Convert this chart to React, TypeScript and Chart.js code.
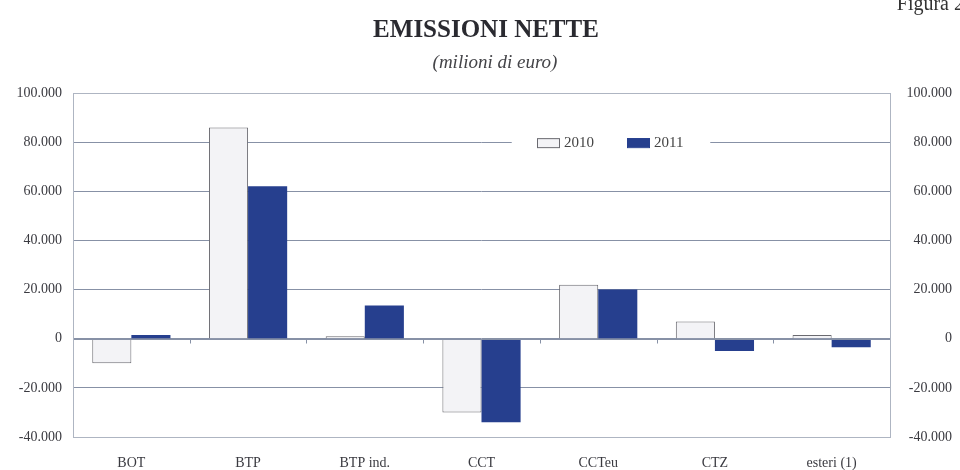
import React, { useEffect, useRef } from "react";
import { Chart, registerables } from "chart.js";

Chart.register(...registerables);

const categories = ["BOT", "BTP", "BTP ind.", "CCT", "CCTeu", "CTZ", "esteri (1)"];
const series2010 = [-10000, 86000, 1000, -30000, 22000, 7000, 1500];
const series2011 = [1500, 62000, 13500, -34000, 20000, -5000, -3500];
const seriesLabels = ["2010", "2011"];
const yTicks = { min: -40000, max: 100000, step: 20000 };
const titleText = "EMISSIONI NETTE";
const subtitleText = "(milioni di euro)";
const figureText = "Figura 2";

const FONT = "'Liberation Serif', 'DejaVu Serif', serif";
const GRID = "#8791a6";
const FRAME = "#aeb5c2";
const C2010 = "#f3f3f6";
const C2010_BORDER = "#6a6a70";
const C2011 = "#263f8e";

const fmt = (v: number) => {
  const s = Math.abs(v).toString().replace(/\B(?=(\d{3})+(?!\d))/g, ".");
  return (v < 0 ? "-" : "") + s;
};

const decorPlugin = {
  id: "decor",
  beforeDraw(chart: any) {
    const ctx = chart.ctx;
    ctx.save();
    ctx.fillStyle = "#ffffff";
    ctx.fillRect(0, 0, chart.width, chart.height);
    ctx.fillStyle = "#2a2a30";
    ctx.textAlign = "center";
    ctx.textBaseline = "alphabetic";
    ctx.font = `bold 25px ${FONT}`;
    ctx.fillText(titleText, 486, 37);
    ctx.fillStyle = "#444448";
    ctx.font = `italic 19px ${FONT}`;
    ctx.fillText(subtitleText, 495, 68);
    ctx.textAlign = "right";
    ctx.font = `20px ${FONT}`;
    ctx.fillStyle = "#333";
    ctx.fillText(figureText, 964, 10);
    ctx.restore();
  },
  afterDatasetsDraw(chart: any) {
    const ctx = chart.ctx;
    const area = chart.chartArea;
    const x = chart.scales.x;
    const y = chart.scales.y;
    ctx.save();
    const y0 = Math.round(y.getPixelForValue(0)) + 0.5;
    ctx.strokeStyle = GRID;
    ctx.lineWidth = 1;
    ctx.beginPath();
    ctx.moveTo(area.left, y0);
    ctx.lineTo(area.right, y0);
    for (let i = 1; i < categories.length; i++) {
      const px = Math.round(x.getPixelForValue(i - 0.5)) + 0.5;
      ctx.moveTo(px, y0);
      ctx.lineTo(px, y0 + 4);
    }
    ctx.stroke();
    ctx.strokeStyle = FRAME;
    ctx.strokeRect(Math.round(area.left) + 0.5, Math.round(area.top) + 0.5, Math.round(area.width), Math.round(area.height));
    const ly = y.getPixelForValue(80000);
    const lx0 = area.left + area.width * 0.537;
    const lx1 = area.left + area.width * 0.78;
    ctx.fillStyle = "#ffffff";
    ctx.fillRect(lx0, ly - 8, lx1 - lx0, 16);
    const items = [
      { label: seriesLabels[0], fill: C2010, stroke: C2010_BORDER, x: 537 },
      { label: seriesLabels[1], fill: C2011, stroke: C2011, x: 627 },
    ];
    ctx.font = `15px ${FONT}`;
    ctx.textAlign = "left";
    ctx.textBaseline = "middle";
    for (const it of items) {
      ctx.fillStyle = it.fill;
      ctx.fillRect(it.x, ly - 4, 23, 9);
      ctx.strokeStyle = it.stroke;
      ctx.strokeRect(it.x + 0.5, ly - 4 + 0.5, 22, 9);
      ctx.fillStyle = "#444";
      ctx.fillText(it.label, it.x + 27, ly + 1);
    }
    ctx.restore();
  },
};

export default function App() {
  const ref = useRef<HTMLCanvasElement | null>(null);
  useEffect(() => {
    if (!ref.current) return;
    const tickFont = { family: FONT, size: 14 };
    const chart = new Chart(ref.current, {
      type: "bar",
      data: {
        labels: categories,
        datasets: [
          {
            label: seriesLabels[0],
            data: series2010,
            backgroundColor: C2010,
            borderColor: C2010_BORDER,
            borderWidth: 1,
            yAxisID: "y",
          },
          {
            label: seriesLabels[1],
            data: series2011,
            backgroundColor: C2011,
            borderColor: C2011,
            borderWidth: 0,
            yAxisID: "y",
          },
        ],
      },
      options: {
        responsive: false,
        animation: false,
        devicePixelRatio: 1,
        layout: { padding: { top: 93, left: 0, right: 8, bottom: 0 } },
        datasets: { bar: { categoryPercentage: 0.67, barPercentage: 1.0 } },
        plugins: {
          legend: { display: false },
          title: { display: false },
          tooltip: { enabled: false },
        },
        scales: {
          x: {
            grid: { display: false, drawTicks: false },
            border: { display: false },
            ticks: { font: tickFont, color: "#3a3a40", padding: 18 },
            afterFit: (s: any) => {
              s.height = 33;
            },
          },
          y: {
            position: "left",
            min: yTicks.min,
            max: yTicks.max,
            ticks: {
              stepSize: yTicks.step,
              font: tickFont,
              color: "#3a3a40",
              padding: 11,
              callback: (v: any) => fmt(Number(v)),
            },
            grid: { color: GRID, drawTicks: false, lineWidth: 1 },
            border: { display: false },
            afterFit: (s: any) => {
              s.width = 73;
            },
          },
          y2: {
            position: "right",
            min: yTicks.min,
            max: yTicks.max,
            ticks: {
              stepSize: yTicks.step,
              font: tickFont,
              color: "#3a3a40",
              padding: 11,
              crossAlign: "far",
              callback: (v: any) => fmt(Number(v)),
            },
            grid: { display: false, drawTicks: false },
            border: { display: false },
            afterFit: (s: any) => {
              s.width = 62;
            },
          },
        },
      },
      plugins: [decorPlugin],
    } as any);
    return () => chart.destroy();
  }, []);
  return (
    <div style={{ position: "fixed", left: 0, top: 0, width: 960, height: 470, background: "#fff" }}>
      <canvas ref={ref} width={960} height={470} />
    </div>
  );
}
